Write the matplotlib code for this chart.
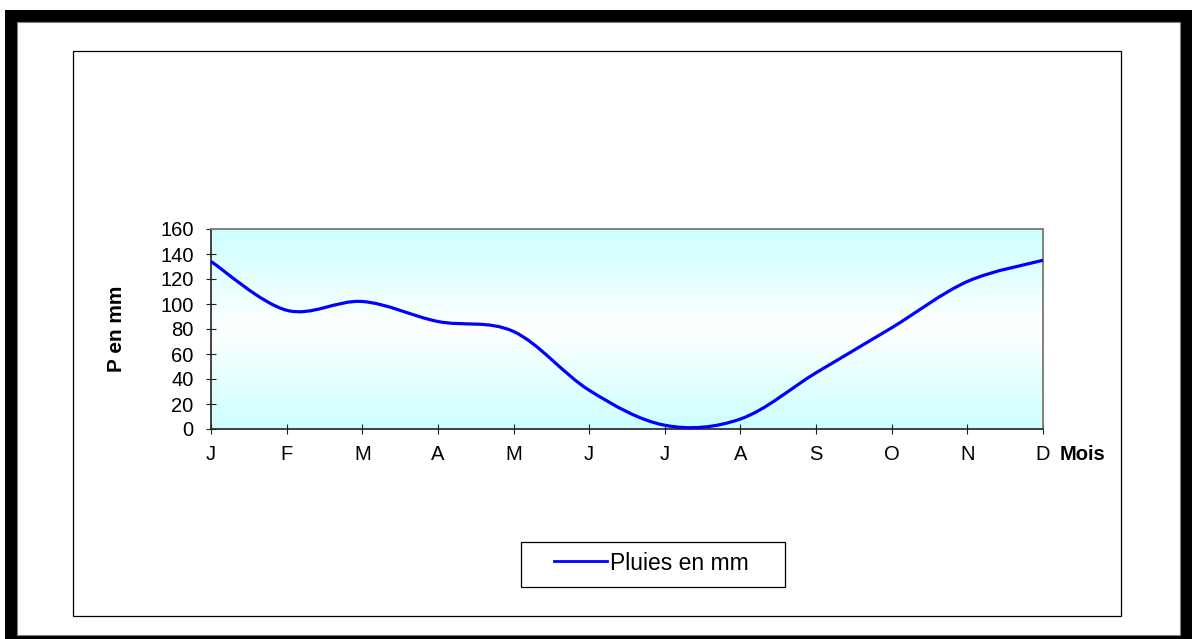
import numpy as np
import matplotlib.pyplot as plt
from matplotlib.patches import Rectangle, PathPatch
from matplotlib.path import Path
from matplotlib.lines import Line2D
from matplotlib.colors import LinearSegmentedColormap

plt.rcParams['font.family'] = ['Liberation Sans', 'DejaVu Sans']

months = ['J', 'F', 'M', 'A', 'M', 'J', 'J', 'A', 'S', 'O', 'N', 'D']
rain_mm = [134, 95, 102, 86, 78, 31, 3, 8, 45, 81, 118, 135]
yticks = [0, 20, 40, 60, 80, 100, 120, 140, 160]

W, H = 1192, 639


def fx(px):
    return px / W


def fy(py):
    return 1 - py / H


def frame_rect(x0, y0, x1, y1, **kw):
    # rectangle given in pixel coords of the picture (y going down)
    r = Rectangle((fx(x0), fy(y1)), fx(x1) - fx(x0), fy(y0) - fy(y1),
                  transform=fig.transFigure, **kw)
    fig.patches.append(r)
    return r


fig = plt.figure(figsize=(W / 100, H / 100), dpi=100)

# outer black frame and inner chart area
frame_rect(5, 10, 1192, 639, facecolor='black', edgecolor='none', zorder=-10)
frame_rect(17, 22, 1180, 635, facecolor='white', edgecolor='#808080', lw=0.8, zorder=-9)
frame_rect(73, 51, 1121, 616, facecolor='white', edgecolor='black', lw=0.9, zorder=-8)

ax = fig.add_axes([fx(211), fy(429), fx(1043) - fx(211), fy(229) - fy(429)])

# cyan - white - cyan background gradient
cmap = LinearSegmentedColormap.from_list('bg', ['#CCFFFF', '#FFFFFF', '#CCFFFF'])
grad = np.linspace(0, 1, 256).reshape(-1, 1)
ax.imshow(grad, extent=[0, 1, 0, 1], transform=ax.transAxes, aspect='auto',
          cmap=cmap, zorder=0, interpolation='bicubic')

# smoothed line (Bezier through the monthly values, like a spreadsheet "smoothed line")
x = np.arange(len(rain_mm))
y = np.array(rain_mm, dtype=float)
pts = np.column_stack([x, y])
ext = np.vstack([pts[0], pts, pts[-1]])
verts = [tuple(pts[0])]
codes = [Path.MOVETO]
for i in range(len(pts) - 1):
    p0, p1, p2, p3 = ext[i], ext[i + 1], ext[i + 2], ext[i + 3]
    c1 = p1 + (p2 - p0) / 6
    c2 = p2 - (p3 - p1) / 6
    verts += [tuple(c1), tuple(c2), tuple(p2)]
    codes += [Path.CURVE4] * 3
ax.add_patch(PathPatch(Path(verts, codes), facecolor='none', edgecolor='#0000FF',
                       lw=2.3, zorder=3, clip_on=False, capstyle='butt'))

ax.set_xlim(0, len(months) - 1)
ax.set_ylim(0, 160)
ax.set_xticks(x)
ax.set_xticklabels(months)
ax.set_yticks(yticks)

for side in ['left', 'bottom']:
    ax.spines[side].set_color('#222222')
    ax.spines[side].set_linewidth(1.2)
for side in ['top', 'right']:
    ax.spines[side].set_color('#808080')
    ax.spines[side].set_linewidth(1.4)

ax.tick_params(axis='both', direction='inout', length=7, width=0.8, color='#222222', labelsize=14.5)
ax.tick_params(axis='x', pad=8)
ax.tick_params(axis='y', pad=9)

ax.set_ylabel('P en mm', fontsize=15, fontweight='bold')
ax.yaxis.set_label_coords((126 - 211) / 832, 0.5)

fig.text(fx(1060), fy(454), 'Mois', fontsize=14.5, fontweight='bold', ha='left', va='center')

# legend
frame_rect(521, 542, 785, 587, facecolor='white', edgecolor='black', lw=0.9, zorder=-1)
handle = Line2D([], [], color='#0000FF', lw=2.0)
fig.legend([handle], ['Pluies en mm'], loc='center left',
           bbox_to_anchor=(fx(554), fy(563)), frameon=False, fontsize=16.5,
           handlelength=2.3, handletextpad=0.15, borderpad=0, borderaxespad=0)

fig.savefig('out.png', dpi=100)
